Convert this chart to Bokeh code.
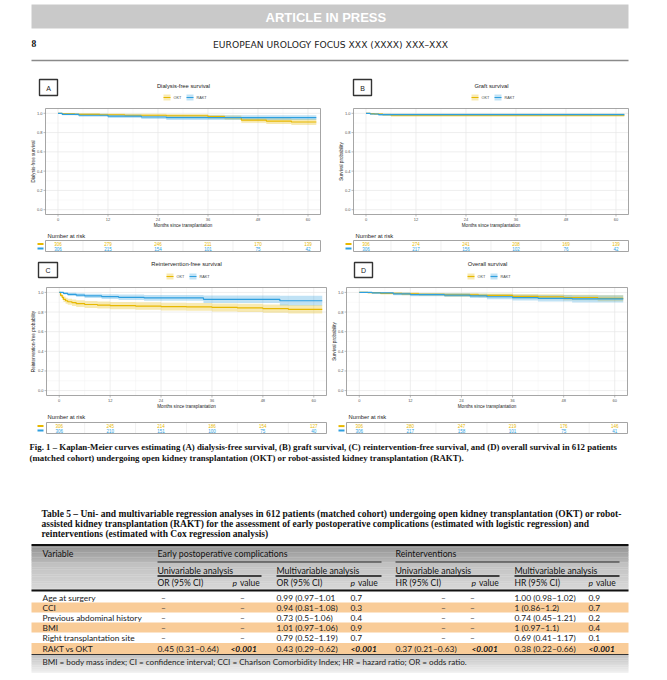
import math
from bokeh.plotting import figure
from bokeh.models import Range1d
from bokeh.embed import file_html
from bokeh.resources import INLINE
from bokeh.core.properties import value

# ======================= DATA =======================
months_ticks = [0, 12, 24, 36, 48, 60]
month_tick_labels = ["0", "12", "24", "36", "48", "60"]
months_minor = [6, 18, 30, 42, 54]
surv_ticks = [0.0, 0.2, 0.4, 0.6, 0.8, 1.0]
surv_tick_labels = ["0.0", "0.2", "0.4", "0.6", "0.8", "1.0"]
surv_minor = [0.1, 0.3, 0.5, 0.7, 0.9]
groups = ["OKT", "RAKT"]
group_colors = ["#E7B800", "#2E9FDF"]

panel_letters = ["A", "B", "C", "D"]
panel_titles = ["Dialysis-free survival", "Graft survival",
                "Reintervention-free survival", "Overall survival"]
panel_ylabels = ["Dialysis-free survival", "Survival probability",
                 "Reintervention-free probability", "Survival probability"]
x_label = "Months since transplantation"

# (A) dialysis-free survival
a_okt_t = [0, 1, 4, 10, 16, 26, 36, 40, 44, 50, 56, 62]
a_okt_s = [1.0, 0.995, 0.99, 0.985, 0.98, 0.975, 0.965, 0.955, 0.93, 0.92, 0.91, 0.91]
a_okt_lo = [1.0, 0.987, 0.979, 0.971, 0.964, 0.957, 0.944, 0.932, 0.903, 0.89, 0.878, 0.878]
a_okt_hi = [1.0, 1.0, 1.0, 0.998, 0.995, 0.993, 0.986, 0.978, 0.957, 0.95, 0.942, 0.942]
a_rakt_t = [0, 1, 5, 12, 20, 26, 62]
a_rakt_s = [1.0, 0.99, 0.98, 0.97, 0.962, 0.955, 0.955]
a_rakt_lo = [1.0, 0.979, 0.965, 0.952, 0.941, 0.931, 0.931]
a_rakt_hi = [1.0, 1.0, 0.995, 0.988, 0.983, 0.979, 0.979]

# (B) graft survival
b_okt_t = [0, 1, 2, 4, 6, 62]
b_okt_s = [1.0, 0.997, 0.993, 0.987, 0.98, 0.98]
b_okt_lo = [1.0, 0.99, 0.984, 0.975, 0.965, 0.965]
b_okt_hi = [1.0, 1.0, 1.0, 0.999, 0.995, 0.995]
b_rakt_t = [0, 1, 3, 62]
b_rakt_s = [1.0, 0.993, 0.987, 0.987]
b_rakt_lo = [1.0, 0.984, 0.975, 0.975]
b_rakt_hi = [1.0, 1.0, 0.999, 0.999]

# (C) reintervention-free survival
c_okt_t = [0, 0.3, 0.7, 1, 1.5, 2, 3, 4, 6, 9, 12, 18, 24, 30, 36, 42, 48, 54, 62]
c_okt_s = [1.0, 0.97, 0.95, 0.93, 0.915, 0.905, 0.895, 0.885, 0.877, 0.871, 0.866,
           0.861, 0.856, 0.852, 0.847, 0.842, 0.835, 0.828, 0.828]
c_okt_lo = [1.0, 0.951, 0.926, 0.902, 0.885, 0.874, 0.862, 0.851, 0.842, 0.835, 0.829,
            0.823, 0.817, 0.812, 0.806, 0.8, 0.792, 0.784, 0.784]
c_okt_hi = [1.0, 0.989, 0.974, 0.958, 0.945, 0.936, 0.928, 0.919, 0.912, 0.907, 0.903,
            0.899, 0.895, 0.892, 0.888, 0.884, 0.878, 0.872, 0.872]
c_rakt_t = [0, 1, 2, 4, 6, 10, 14, 20, 34, 52, 62]
c_rakt_s = [1.0, 0.99, 0.98, 0.972, 0.965, 0.957, 0.95, 0.944, 0.93, 0.915, 0.915]
c_rakt_lo = [1.0, 0.979, 0.964, 0.953, 0.943, 0.932, 0.923, 0.914, 0.893, 0.867, 0.867]
c_rakt_hi = [1.0, 1.0, 0.996, 0.991, 0.987, 0.982, 0.978, 0.974, 0.968, 0.965, 0.965]

# (D) overall survival
d_okt_t = [0, 2, 5, 10, 14, 20, 28, 36, 42, 48, 56, 62]
d_okt_s = [1.0, 0.997, 0.99, 0.985, 0.98, 0.975, 0.97, 0.96, 0.955, 0.948, 0.94, 0.94]
d_okt_lo = [1.0, 0.991, 0.979, 0.971, 0.964, 0.957, 0.95, 0.937, 0.93, 0.92, 0.909, 0.909]
d_okt_hi = [1.0, 1.0, 1.0, 0.998, 0.995, 0.993, 0.99, 0.983, 0.98, 0.976, 0.971, 0.971]
d_rakt_t = [0, 3, 8, 12, 20, 26, 30, 36, 42, 50, 62]
d_rakt_s = [1.0, 0.995, 0.985, 0.977, 0.972, 0.965, 0.956, 0.947, 0.94, 0.935, 0.935]
d_rakt_lo = [1.0, 0.987, 0.972, 0.961, 0.953, 0.943, 0.931, 0.918, 0.907, 0.898, 0.898]
d_rakt_hi = [1.0, 1.0, 0.998, 0.993, 0.991, 0.987, 0.981, 0.976, 0.973, 0.972, 0.972]

# numbers at risk
risk_a_okt = [306, 279, 246, 211, 170, 139]
risk_a_rakt = [306, 215, 154, 101, 75, 42]
risk_b_okt = [306, 274, 241, 208, 169, 139]
risk_b_rakt = [306, 217, 156, 102, 76, 42]
risk_c_okt = [306, 245, 214, 186, 154, 127]
risk_c_rakt = [306, 210, 151, 100, 75, 40]
risk_d_okt = [306, 280, 247, 219, 176, 146]
risk_d_rakt = [306, 217, 158, 101, 75, 41]

# table 5
tbl_variables = ["Age at surgery", "CCI", "Previous abdominal history", "BMI",
                 "Right transplantation site", "RAKT vs OKT"]
tbl_comp_uni_or = ["–", "–", "–", "–", "–", "0.45 (0.31–0.64)"]
tbl_comp_uni_p = ["–", "–", "–", "–", "–", "<0.001"]
tbl_comp_multi_or = ["0.99 (0.97–1.01", "0.94 (0.81–1.08)", "0.73 (0.5–1.06)",
                     "1.01 (0.97–1.06)", "0.79 (0.52–1.19)", "0.43 (0.29–0.62)"]
tbl_comp_multi_p = ["0.7", "0.3", "0.4", "0.9", "0.7", "<0.001"]
tbl_reint_uni_hr = ["–", "–", "–", "–", "–", "0.37 (0.21–0.63)"]
tbl_reint_uni_p = ["–", "–", "–", "–", "–", "<0.001"]
tbl_reint_multi_hr = ["1.00 (0.98–1.02)", "1 (0.86–1.2)", "0.74 (0.45–1.21)",
                      "1 (0.97–1.1)", "0.69 (0.41–1.17)", "0.38 (0.22–0.66)"]
tbl_reint_multi_p = ["0.9", "0.7", "0.2", "0.4", "0.1", "<0.001"]

# ======================= PAGE =======================
W, H = 660, 676
X0, Y0 = 0, 0
p = figure(width=W, height=H, x_range=Range1d(X0, X0 + W), y_range=Range1d(Y0 + H, Y0),
           x_axis_type=None, y_axis_type=None, output_backend="svg",
           toolbar_location=None, min_border=0, outline_line_color=None)
p.background_fill_color = "white"
p.border_fill_color = "white"

XLIM = (-3, 63)
YLIM = (-0.05, 1.05)
SANS = "Liberation Sans"
SERIF = "Liberation Serif"
TBL = "Lato"


def txt(x, y, s, size, color="#333333", font=SANS, style="normal", align="left",
        baseline="middle", angle=0.0, xr="default", yr="default"):
    if not isinstance(x, list):
        x, y, s = [x], [y], [s]
    p.text(x=x, y=y, text=s, text_font=value(font), text_font_size=value(f"{size}px"),
           text_font_style=style, text_color=color, text_align=align,
           text_baseline=baseline, angle=angle, x_range_name=xr, y_range_name=yr)


def hline(x0, x1, y, color, w):
    p.segment(x0=[x0], y0=[y], x1=[x1], y1=[y], line_color=color, line_width=w)


def grad_band(x0, x1, y0, y1, c0, c1, n):
    h = (y1 - y0) / n
    lefts, rights, tops, bots, cols = [], [], [], [], []
    for i in range(n):
        f = i / max(n - 1, 1)
        c = tuple(int(round(c0[k] + (c1[k] - c0[k]) * f)) for k in range(3))
        lefts.append(x0); rights.append(x1)
        tops.append(y0 + i * h); bots.append(y0 + (i + 1) * h + 0.3)
        cols.append("#%02x%02x%02x" % c)
    p.quad(left=lefts, right=rights, top=tops, bottom=bots, fill_color=cols, line_color=None)


# ---- running head ----
p.quad(left=[31], right=[628], top=[4], bottom=[28], fill_color="#c9c9c9", line_color=None)
txt(329, 17, "ARTICLE  IN  PRESS", 13, color="white", style="bold", align="center")
txt(31, 43, "8", 9.5, color="#111111", font=SERIF, style="bold")
txt(330, 44, "EUROPEAN UROLOGY FOCUS XXX (XXXX) XXX–XXX", 9.2, color="#222222",
    font="DejaVu Sans", align="center")
hline(31, 628, 60, "#8a8a8a", 1.6)

# ---- KM panels ----
panels = {
    "A": dict(curves=[(a_okt_t, a_okt_s, a_okt_lo, a_okt_hi), (a_rakt_t, a_rakt_s, a_rakt_lo, a_rakt_hi)],
              risk=[risk_a_okt, risk_a_rakt]),
    "B": dict(curves=[(b_okt_t, b_okt_s, b_okt_lo, b_okt_hi), (b_rakt_t, b_rakt_s, b_rakt_lo, b_rakt_hi)],
              risk=[risk_b_okt, risk_b_rakt]),
    "C": dict(curves=[(c_okt_t, c_okt_s, c_okt_lo, c_okt_hi), (c_rakt_t, c_rakt_s, c_rakt_lo, c_rakt_hi)],
              risk=[risk_c_okt, risk_c_rakt]),
    "D": dict(curves=[(d_okt_t, d_okt_s, d_okt_lo, d_okt_hi), (d_rakt_t, d_rakt_s, d_rakt_lo, d_rakt_hi)],
              risk=[risk_d_okt, risk_d_rakt]),
}
# layout in page pixels
geo = {
    "A": dict(frame=(45, 320, 108, 214), box=(39, 79, 57, 95), tx=183, ty=85, ly=97,
              xl_y=224.5, yl_x=33, nar=(47, 235), rbox=(240, 251), sw=(37, 43)),
    "B": dict(frame=(353, 628, 108, 214), box=(353, 79, 371, 95), tx=491, ty=85, ly=97,
              xl_y=224.5, yl_x=341, nar=(355, 235), rbox=(240, 251), sw=(345, 351)),
    "C": dict(frame=(46, 326, 287, 395), box=(38, 262, 57, 277), tx=186, ty=263, ly=276,
              xl_y=405.5, yl_x=33, nar=(47, 416), rbox=(422, 433), sw=(37, 43)),
    "D": dict(frame=(346, 627, 287, 395), box=(354, 262, 372, 277), tx=487, ty=263, ly=276,
              xl_y=405.5, yl_x=334, nar=(348, 416), rbox=(422, 433), sw=(338, 344)),
}

xr_extra, yr_extra = {}, {}
for name, g in geo.items():
    fx0, fx1, fy0, fy1 = g["frame"]
    kx = (fx1 - fx0) / (XLIM[1] - XLIM[0])
    xs = XLIM[0] - (fx0 - X0) / kx
    xr_extra[name] = Range1d(xs, xs + W / kx)
    ky = (fy1 - fy0) / (YLIM[1] - YLIM[0])
    ys = YLIM[0] - (Y0 + H - fy1) / ky
    yr_extra[name] = Range1d(ys, ys + H / ky)
p.extra_x_ranges = xr_extra
p.extra_y_ranges = yr_extra

for idx, name in enumerate(panel_letters):
    g = geo[name]
    d = panels[name]
    fx0, fx1, fy0, fy1 = g["frame"]
    kw = dict(x_range_name=name, y_range_name=name)
    # grid
    p.segment(x0=months_minor, x1=months_minor, y0=[YLIM[0]] * 5, y1=[YLIM[1]] * 5,
              line_color="#f2f2f2", line_width=0.5, **kw)
    p.segment(x0=[XLIM[0]] * 5, x1=[XLIM[1]] * 5, y0=surv_minor, y1=surv_minor,
              line_color="#f2f2f2", line_width=0.5, **kw)
    p.segment(x0=months_ticks, x1=months_ticks, y0=[YLIM[0]] * 6, y1=[YLIM[1]] * 6,
              line_color="#e6e6e6", line_width=0.7, **kw)
    p.segment(x0=[XLIM[0]] * 6, x1=[XLIM[1]] * 6, y0=surv_ticks, y1=surv_ticks,
              line_color="#e6e6e6", line_width=0.7, **kw)
    # confidence bands then curves
    for (t, s, lo, hi), col in zip(d["curves"], group_colors):
        p.varea_step(x=t, y1=lo, y2=hi, step_mode="after", fill_color=col, fill_alpha=0.3, **kw)
    for (t, s, lo, hi), col in zip(d["curves"], group_colors):
        p.step(x=t, y=s, mode="after", line_color=col, line_width=1.2, **kw)
    # frame
    p.quad(left=[XLIM[0]], right=[XLIM[1]], bottom=[YLIM[0]], top=[YLIM[1]],
           fill_color=None, line_color="#8f8f8f", line_width=0.8, **kw)
    # ticks
    p.segment(x0=months_ticks, x1=months_ticks, y0=[fy1] * 6, y1=[fy1 + 2] * 6,
              line_color="#8f8f8f", line_width=0.6, x_range_name=name)
    p.segment(x0=[fx0 - 2] * 6, x1=[fx0] * 6, y0=surv_ticks, y1=surv_ticks,
              line_color="#8f8f8f", line_width=0.6, y_range_name=name)
    txt(months_ticks, [fy1 + 4.5] * 6, month_tick_labels, 4, color="#555555",
        align="center", xr=name)
    txt([fx0 - 3] * 6, surv_ticks, surv_tick_labels, 4, color="#555555",
        align="right", yr=name)
    # axis titles
    txt((fx0 + fx1) / 2, g["xl_y"], x_label, 4.6, color="#222222", align="center")
    txt(g["yl_x"], (fy0 + fy1) / 2, panel_ylabels[idx], 4.6, color="#222222",
        align="center", angle=math.pi / 2)
    # panel letter box
    bx0, by0, bx1, by1 = g["box"]
    p.quad(left=[bx0], right=[bx1], top=[by0], bottom=[by1], fill_color="white",
           line_color="#333333", line_width=1.4)
    txt((bx0 + bx1) / 2, (by0 + by1) / 2 + 0.5, name, 7, color="#222222", align="center")
    # title + legend
    txt(g["tx"], g["ty"], panel_titles[idx], 5.8, color="#222222", align="center")
    cx, ly = g["tx"], g["ly"]
    for off, col, lab in [(-20, group_colors[0], groups[0]), (3, group_colors[1], groups[1])]:
        p.quad(left=[cx + off], right=[cx + off + 7], top=[ly - 3], bottom=[ly + 3],
               fill_color=col, fill_alpha=0.3, line_color=None)
        hline(cx + off, cx + off + 7, ly, col, 1.2)
        txt(cx + off + 10, ly, lab, 3.8, color="#444444")
    # number at risk
    txt(g["nar"][0], g["nar"][1], "Number at risk", 5.8, color="#222222")
    rt, rb = g["rbox"]
    p.segment(x0=months_minor, x1=months_minor, y0=[rt] * 5, y1=[rb] * 5,
              line_color="#e6e6e6", line_width=0.6, x_range_name=name)
    p.quad(left=[XLIM[0]], right=[XLIM[1]], top=[rt], bottom=[rb], fill_color=None,
           line_color="#9a9a9a", line_width=0.9, x_range_name=name)
    rows_y = [rt + 3.6, rt + 8.0]
    for vals, ry, col in zip(d["risk"], rows_y, group_colors):
        txt(months_ticks, [ry] * 6, [str(v) for v in vals], 4.5, color=col,
            align="center", xr=name)
        hline(g["sw"][0], g["sw"][1], ry, col, 2.0)

# ---- figure caption ----
cap1 = ("Fig. 1 – Kaplan-Meier curves estimating (A) dialysis-free survival, (B) graft survival, "
        "(C) reintervention-free survival, and (D) overall survival in 612 patients")
cap2 = ("(matched cohort) undergoing open kidney transplantation (OKT) or robot-assisted kidney "
        "transplantation (RAKT).")
txt([29, 29], [446.5, 457.5], [cap1, cap2], 8.8, color="#111111", font=SERIF, style="bold")

# ---- table title ----
tt = ["Table 5 – Uni- and multivariable regression analyses in 612 patients (matched cohort) "
      "undergoing open kidney transplantation (OKT) or robot-",
      "assisted kidney transplantation (RAKT) for the assessment of early postoperative "
      "complications (estimated with logistic regression) and",
      "reinterventions (estimated with Cox regression analysis)"]
txt([41, 41, 41], [513.5, 523.5, 533.5], tt, 9.5, color="#111111", font=SERIF, style="bold")

# ---- table ----
TL, TR = 31, 628
grad_band(TL, TR, 545, 562, (148, 148, 148), (182, 182, 182), 10)
grad_band(TL, TR, 562, 590, (192, 192, 192), (216, 216, 216), 12)
hline(TL, TR, 544.5, "#111111", 2.2)
hline(TL, TR, 590, "#111111", 2.0)
hline(157, 381, 561.5, "#222222", 1.1)
hline(395, 619, 561.5, "#222222", 1.1)
for a, b in [(157, 261), (276, 381), (395, 499), (514, 619)]:
    hline(a, b, 575.5, "#111111", 1.6)

txt(42, 553, "Variable", 8.8, color="#111111", font=TBL)
txt([157, 395], [553, 553], ["Early postoperative complications", "Reinterventions"], 8.8,
    color="#111111", font=TBL)
txt([157, 276, 395, 514], [569.5] * 4,
    ["Univariable analysis", "Multivariable analysis", "Univariable analysis",
     "Multivariable analysis"], 8.8, color="#111111", font=TBL)
txt([157, 276, 395, 514], [582.5] * 4,
    ["OR (95% CI)", "OR (95% CI)", "HR (95% CI)", "HR (95% CI)"], 8.5, color="#111111", font=TBL)
pcols = [232, 350, 471, 588]
txt(pcols, [582.5] * 4, ["p"] * 4, 8.5, color="#111111", font=TBL, style="italic")
txt([c + 7.5 for c in pcols], [582.5] * 4, ["value"] * 4, 8.5, color="#111111", font=TBL)

row_y = [597, 607, 617, 627, 637, 648]
row_top = [592, 602, 612, 622, 632, 642.5]
row_bot = [602, 612, 622, 632, 642.5, 653.5]
hl = [i for i in range(6) if i % 2 == 1]
p.quad(left=[TL] * len(hl), right=[TR] * len(hl), top=[row_top[i] for i in hl],
       bottom=[row_bot[i] for i in hl], fill_color="#f9cc98", line_color=None)

cols = [(42, tbl_variables, 42), (157, tbl_comp_uni_or, 163), (230, tbl_comp_uni_p, 242),
        (276, tbl_comp_multi_or, None), (350, tbl_comp_multi_p, None),
        (395, tbl_reint_uni_hr, 443), (471, tbl_reint_uni_p, 472),
        (514, tbl_reint_multi_hr, None), (588, tbl_reint_multi_p, None)]
for cx, vals, dash_x in cols:
    for i, v in enumerate(vals):
        if v == "–":
            txt(dash_x, row_y[i], v, 8.4, color="#333333", font=TBL, align="center")
        elif v == "<0.001":
            txt(cx, row_y[i], v, 8.4, color="#111111", font=TBL, style="bold italic")
        else:
            txt(cx, row_y[i], v, 8.4, color="#1a1a1a", font=TBL)

hline(TL, TR, 654, "#333333", 1.0)
grad_band(TL, TR, 654.5, 672, (196, 196, 196), (238, 238, 238), 10)
txt(42, 661.5, "BMI = body mass index; CI = confidence interval; CCI = Charlson Comorbidity "
    "Index; HR = hazard ratio; OR = odds ratio.", 8.1, color="#222222", font=TBL)

open("out.html", "w").write(file_html(p, INLINE))
